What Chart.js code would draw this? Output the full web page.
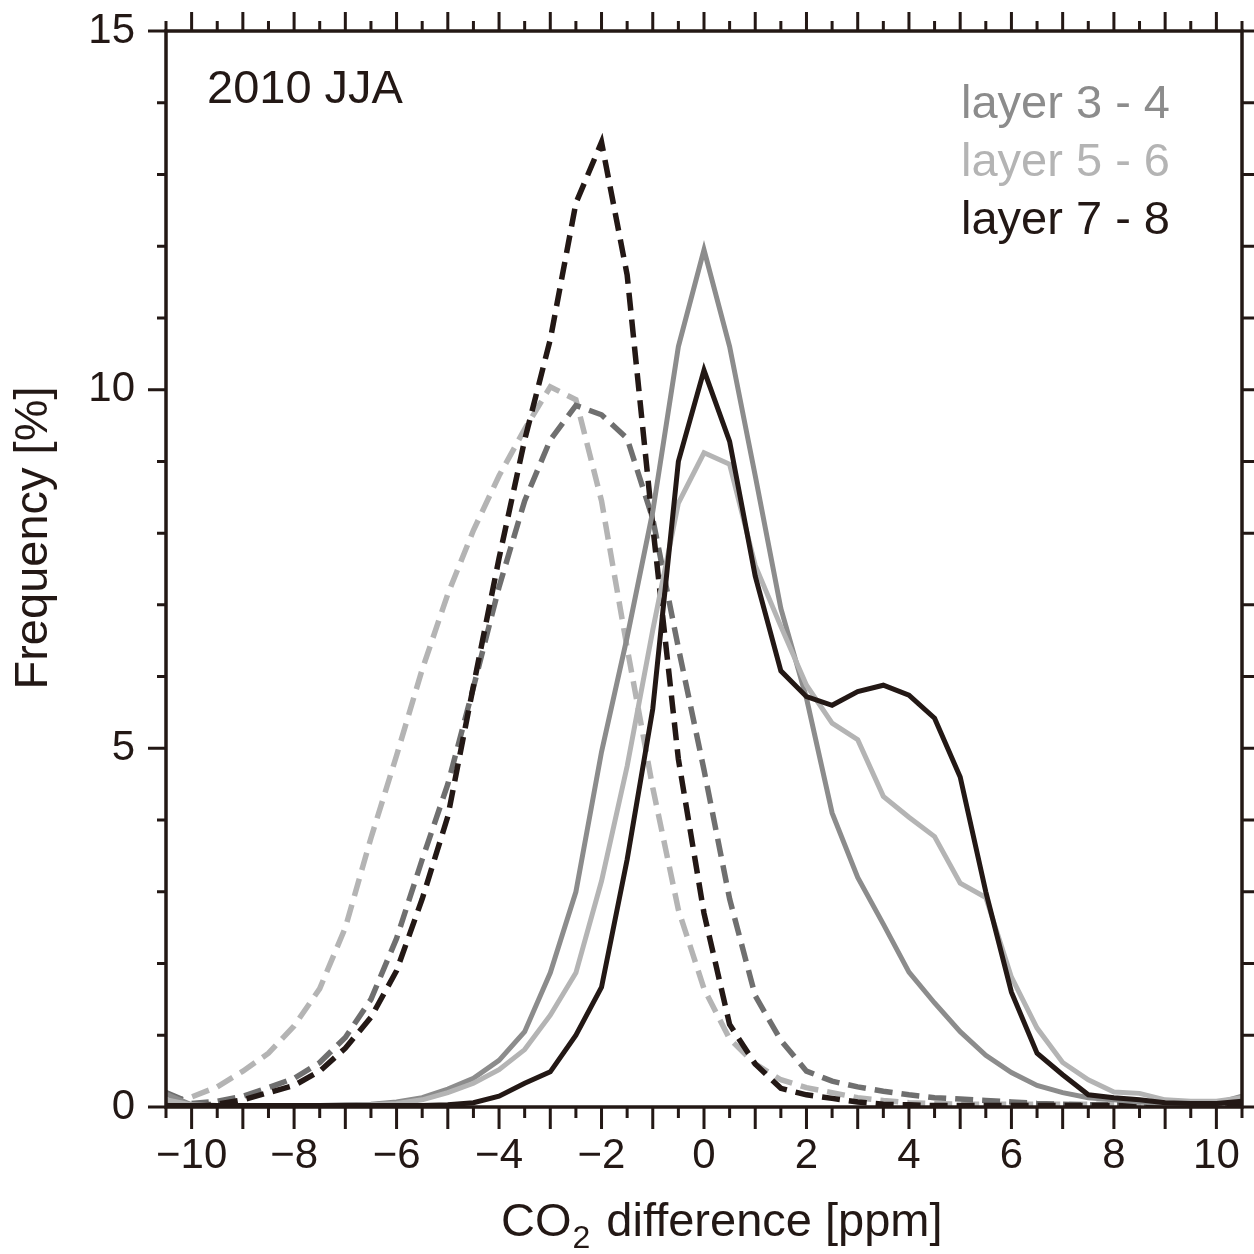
<!DOCTYPE html>
<html>
<head>
<meta charset="utf-8">
<script src="https://cdn.jsdelivr.net/npm/chart.js@4.4.1/dist/chart.umd.min.js"></script>
<style>
  html, body { margin: 0; padding: 0; background: #fff; }
  #wrap { width: 1254px; height: 1254px; }
</style>
</head>
<body>
<div id="wrap"><canvas id="co2Chart"></canvas></div>
<script>
// CO2 difference bins [ppm]
const diffs = [-10.5, -10, -9.5, -9, -8.5, -8, -7.5, -7, -6.5, -6, -5.5, -5, -4.5, -4, -3.5, -3, -2.5, -2, -1.5, -1, -0.5,
  0, 0.5, 1, 1.5, 2, 2.5, 3, 3.5, 4, 4.5, 5, 5.5, 6, 6.5, 7, 7.5, 8, 8.5, 9, 9.5, 10, 10.5];

// Frequency [%], solid lines
const layer34 = [0.18, 0.03, 0.02, 0.02, 0.02, 0.02, 0.02, 0.03, 0.04, 0.07, 0.13, 0.25, 0.4, 0.65, 1.05, 1.87, 3.0, 4.95, 6.55, 8.3, 10.6,
  11.95, 10.6, 8.8, 6.95, 5.7, 4.1, 3.2, 2.55, 1.88, 1.45, 1.05, 0.72, 0.48, 0.3, 0.2, 0.13, 0.1, 0.07, 0.05, 0.04, 0.05, 0.15];
const layer56 = [0.1, 0.03, 0.02, 0.02, 0.02, 0.02, 0.02, 0.02, 0.03, 0.05, 0.1, 0.2, 0.33, 0.52, 0.8, 1.28, 1.87, 3.15, 4.75, 6.65, 8.42,
  9.12, 8.96, 7.55, 6.7, 5.88, 5.35, 5.12, 4.33, 4.04, 3.77, 3.12, 2.92, 1.81, 1.1, 0.62, 0.38, 0.21, 0.19, 0.1, 0.08, 0.08, 0.13];
const layer78 = [0.02, 0.02, 0.02, 0.02, 0.02, 0.02, 0.02, 0.02, 0.02, 0.02, 0.02, 0.03, 0.06, 0.15, 0.33, 0.49, 1.0, 1.67, 3.45, 5.55, 9.0,
  10.27, 9.28, 7.4, 6.08, 5.72, 5.6, 5.79, 5.88, 5.74, 5.42, 4.6, 3.0, 1.6, 0.75, 0.45, 0.17, 0.13, 0.1, 0.06, 0.05, 0.05, 0.08];

// Frequency [%], dashed lines
const layer34d = [0.2, 0.05, 0.08, 0.15, 0.27, 0.4, 0.62, 0.97, 1.5, 2.35, 3.45, 4.5, 5.85, 7.25, 8.45, 9.3, 9.78, 9.65, 9.32, 8.2, 6.4,
  4.7, 2.9, 1.55, 0.93, 0.5, 0.36, 0.28, 0.22, 0.17, 0.13, 0.11, 0.09, 0.07, 0.05, 0.04, 0.03, 0.03, 0.03, 0.03, 0.03, 0.03, 0.04];
const layer56d = [0.05, 0.14, 0.28, 0.5, 0.75, 1.13, 1.65, 2.5, 3.75, 4.9, 6.1, 7.15, 8.04, 8.8, 9.45, 10.04, 9.86, 8.45, 6.4, 4.45, 2.75,
  1.65, 0.95, 0.6, 0.38, 0.27, 0.2, 0.13, 0.09, 0.06, 0.05, 0.04, 0.04, 0.04, 0.04, 0.04, 0.04, 0.04, 0.04, 0.04, 0.04, 0.04, 0.04];
const layer78d = [0.02, 0.02, 0.04, 0.1, 0.2, 0.3, 0.5, 0.82, 1.25, 1.9, 2.9, 4.05, 5.87, 7.65, 9.3, 10.7, 12.6, 13.45, 11.6, 8.1, 4.85,
  2.7, 1.15, 0.6, 0.26, 0.17, 0.12, 0.07, 0.04, 0.03, 0.02, 0.02, 0.02, 0.02, 0.02, 0.02, 0.02, 0.02, 0.02, 0.02, 0.02, 0.02, 0.02];

const xTickLabels = [-10, -8, -6, -4, -2, 0, 2, 4, 6, 8, 10];
const yTickLabels = [0, 5, 10, 15];
const legendNames = ['layer 3 - 4', 'layer 5 - 6', 'layer 7 - 8'];
const panelTitle = '2010 JJA';

const ink = '#231815';
const grey = '#8c8c8c';
const greyDark = '#6f6f6f';
const light = '#b4b4b4';
const FONT = '"Liberation Sans", Arial, sans-serif';

const pts = arr => diffs.map((d, i) => ({ x: d, y: arr[i] }));
const dash = [18, 9];

const minus = v => (v < 0 ? '\u2212' + Math.abs(v) : String(v));

// frame, tick marks and the texts that sit on the plot
const decorations = {
  id: 'decorations',
  afterDraw(chart) {
    const { ctx, chartArea: a, scales: { x, y } } = chart;
    ctx.save();
    ctx.strokeStyle = ink;
    ctx.lineWidth = 3.5;
    ctx.strokeRect(a.left, a.top, a.right - a.left, a.bottom - a.top);

    ctx.lineWidth = 3;
    ctx.beginPath();
    for (let v = -10.5; v <= 10.5; v += 0.5) {
      const px = x.getPixelForValue(v);
      const major = Number.isInteger(v);
      ctx.moveTo(px, a.bottom);
      ctx.lineTo(px, a.bottom + (major ? 22 : 11));
      ctx.moveTo(px, a.top);
      ctx.lineTo(px, a.top - (major ? 19 : 10));
    }
    for (let v = 0; v <= 15; v++) {
      const py = y.getPixelForValue(v);
      ctx.moveTo(a.left, py);
      ctx.lineTo(a.left - (v % 5 === 0 ? 18 : 9), py);
      ctx.moveTo(a.right, py);
      ctx.lineTo(a.right + 12, py);
    }
    ctx.stroke();

    ctx.textBaseline = 'alphabetic';
    ctx.textAlign = 'left';
    ctx.font = '47px ' + FONT;
    ctx.fillStyle = ink;
    ctx.fillText(panelTitle, a.left + 41, a.top + 72);

    const colors = [grey, light, ink];
    legendNames.forEach((t, i) => {
      ctx.fillStyle = colors[i];
      ctx.fillText(t, 961, a.top + 87 + i * 58);
    });

    // x axis title with subscript
    ctx.fillStyle = ink;
    let cx = 501;
    const by = 1236;
    ctx.font = '47px ' + FONT;
    ctx.fillText('CO', cx, by);
    cx += ctx.measureText('CO').width;
    ctx.font = '32px ' + FONT;
    ctx.fillText('2', cx + 1, by + 12);
    cx += ctx.measureText('2').width + 4;
    ctx.font = '47px ' + FONT;
    ctx.fillText(' difference [ppm]', cx, by);

    // y axis title
    ctx.translate(47, 538);
    ctx.rotate(-Math.PI / 2);
    ctx.textAlign = 'center';
    ctx.fillText('Frequency [%]', 0, 0);
    ctx.restore();
  }
};

const line = (label, arr, color, dashed, width) => ({
  label,
  data: pts(arr),
  borderColor: color,
  borderWidth: width,
  borderDash: dashed ? dash : [],
  pointRadius: 0,
  tension: 0,
  fill: false
});

const config = {
  type: 'line',
  data: {
    datasets: [
      line('layer 7 - 8', layer78, ink, false, 5),
      line('layer 5 - 6', layer56, light, false, 5),
      line('layer 3 - 4', layer34, grey, false, 5),
      line('layer 7 - 8 (dashed)', layer78d, ink, true, 5.5),
      line('layer 3 - 4 (dashed)', layer34d, greyDark, true, 5.5),
      line('layer 5 - 6 (dashed)', layer56d, light, true, 5.5)
    ]
  },
  options: {
    responsive: true,
    maintainAspectRatio: false,
    animation: false,
    layout: { padding: { top: 31, right: 12, left: 0, bottom: 0 } },
    plugins: { legend: { display: false }, tooltip: { enabled: false } },
    scales: {
      x: {
        type: 'linear',
        min: -10.5,
        max: 10.5,
        afterBuildTicks: s => { s.ticks = xTickLabels.map(v => ({ value: v })); },
        afterFit: s => { s.height = 147; s.paddingLeft = 0; s.paddingRight = 0; },
        grid: { display: false, drawTicks: false },
        border: { display: false },
        ticks: {
          autoSkip: false,
          maxRotation: 0,
          padding: 24,
          color: ink,
          font: { family: FONT, size: 42 },
          callback: v => minus(v)
        }
      },
      y: {
        min: 0,
        max: 15,
        afterBuildTicks: s => { s.ticks = yTickLabels.map(v => ({ value: v })); },
        afterFit: s => { s.width = 166; s.paddingTop = 0; s.paddingBottom = 0; },
        grid: { display: false, drawTicks: false },
        border: { display: false },
        ticks: {
          padding: 31,
          color: ink,
          font: { family: FONT, size: 42 },
          callback: v => minus(v)
        }
      }
    }
  },
  plugins: [decorations]
};

window.addEventListener('DOMContentLoaded', () => {
  new Chart(document.getElementById('co2Chart'), config);
});
</script>
</body>
</html>
